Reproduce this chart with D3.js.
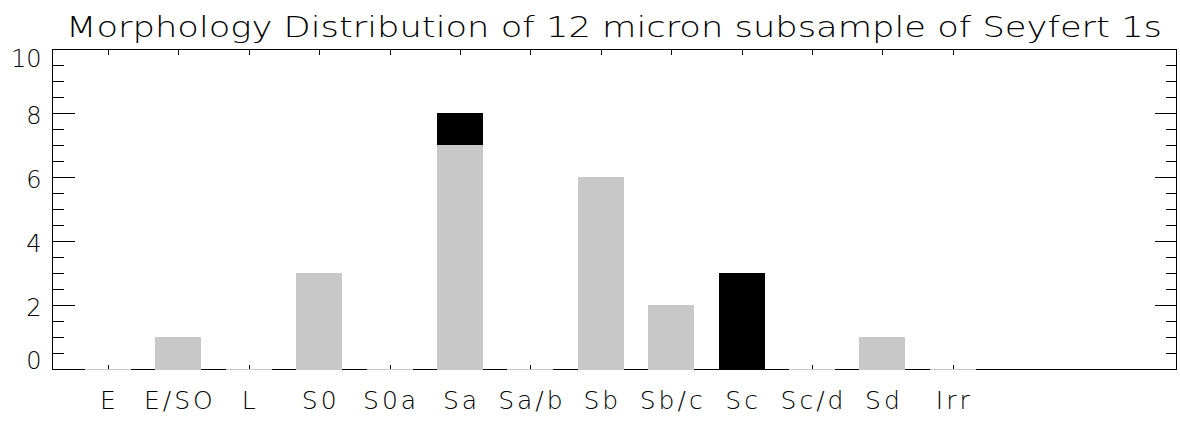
<!DOCTYPE html>
<html>
<head>
<meta charset="utf-8">
<script src="https://cdn.jsdelivr.net/npm/d3@7"></script>
<style>
  html, body { margin: 0; padding: 0; background: #fff; }
  svg { display: block; }
  text { font-family: "DejaVu Sans", "Liberation Sans", sans-serif; font-weight: 200; fill: #000; }
</style>
</head>
<body>
<div id="chart"></div>
<script>
// ---- data ----
const categories = ["E", "E/SO", "L", "S0", "S0a", "Sa", "Sa/b", "Sb", "Sb/c", "Sc", "Sc/d", "Sd", "Irr"];
const greyValues  = [0, 1, 0, 3, 0, 7, 0, 6, 2, 0, 0, 1, 0];
const blackValues = [0, 0, 0, 0, 0, 1, 0, 0, 0, 3, 0, 0, 0];
const yTickValues = [0, 2, 4, 6, 8, 10];
const yTickLabels = ["0", "2", "4", "6", "8", "10"];
const titleText = "Morphology Distribution of 12 micron subsample of Seyfert 1s";

// ---- layout ----
const W = 1180, H = 421;
const plot = { left: 52, right: 1176, top: 49, bottom: 369 };
const xDomain = [-0.795, 15.17];   // category index space of the frame
const barFrac = 0.653;
const greyColor = "#c8c8c8";
const axisColor = "#000";

const svg = d3.select("#chart").append("svg")
  .attr("width", W).attr("height", H);

const x = d3.scaleLinear().domain(xDomain).range([plot.left, plot.right]);
const y = d3.scaleLinear().domain([0, 10]).range([plot.bottom, plot.top]);
const step = x(1) - x(0);
const bw = step * barFrac;

const g = svg.append("g").attr("transform", "translate(0.5,0.5)");

// frame
g.append("rect")
  .attr("x", plot.left).attr("y", plot.top)
  .attr("width", plot.right - plot.left).attr("height", plot.bottom - plot.top)
  .attr("fill", "none").attr("stroke", axisColor).attr("stroke-width", 1)
  .attr("shape-rendering", "crispEdges");

// y ticks (major every 2, minor every 0.5) on left and right
const minorTicks = d3.range(0, 10.001, 0.5);
const majorLen = 22, minorLen = 11;
minorTicks.forEach(v => {
  const isMajor = Math.abs(v % 2) < 1e-9;
  const len = isMajor ? majorLen : minorLen;
  const yy = Math.round(y(v));
  g.append("line").attr("x1", plot.left).attr("x2", plot.left + len)
    .attr("y1", yy).attr("y2", yy).attr("stroke", axisColor).attr("shape-rendering", "crispEdges");
  g.append("line").attr("x1", plot.right).attr("x2", plot.right - len)
    .attr("y1", yy).attr("y2", yy).attr("stroke", axisColor).attr("shape-rendering", "crispEdges");
});

// y labels
yTickValues.forEach((v, i) => {
  let base = y(v) + 11;
  base = Math.max(base, plot.top + 18);
  base = Math.min(base, plot.bottom);
  svg.append("text")
    .attr("x", 41.5).attr("y", base)
    .attr("text-anchor", "end")
    .attr("font-size", 24)
    .text(yTickLabels[i]);
});

// x ticks (top and bottom) at category centres
categories.forEach((c, i) => {
  const xx = Math.round(x(i));
  g.append("line").attr("x1", xx).attr("x2", xx)
    .attr("y1", plot.top).attr("y2", plot.top + 5)
    .attr("stroke", axisColor).attr("shape-rendering", "crispEdges");
  g.append("line").attr("x1", xx).attr("x2", xx)
    .attr("y1", plot.bottom).attr("y2", plot.bottom - 5)
    .attr("stroke", axisColor).attr("shape-rendering", "crispEdges");
});

// grey series bars (zero bars show as a grey segment on the baseline)
svg.append("g").selectAll("rect.grey")
  .data(greyValues).join("rect")
  .attr("class", "grey")
  .attr("x", (d, i) => Math.round(x(i) - bw / 2))
  .attr("width", Math.round(bw))
  .attr("y", d => Math.round(y(d)))
  .attr("height", d => Math.round(y(0)) - Math.round(y(d)) + 1)
  .attr("fill", greyColor)
  .attr("shape-rendering", "crispEdges");

// black series, stacked on grey
svg.append("g").selectAll("rect.black")
  .data(blackValues.map((v, i) => ({ v, base: greyValues[i], i })).filter(d => d.v > 0))
  .join("rect")
  .attr("class", "black")
  .attr("x", d => Math.round(x(d.i) - bw / 2))
  .attr("width", Math.round(bw))
  .attr("y", d => Math.round(y(d.base + d.v)))
  .attr("height", d => Math.round(y(d.base)) - Math.round(y(d.base + d.v)) + (d.base === 0 ? 1 : 0))
  .attr("fill", "#000")
  .attr("shape-rendering", "crispEdges");

// x labels
const ls = 3;
svg.append("g").selectAll("text.xl")
  .data(categories).join("text")
  .attr("class", "xl")
  .attr("x", (d, i) => x(i) + ls / 2)
  .attr("y", 409)
  .attr("text-anchor", "middle")
  .attr("font-size", 25)
  .attr("letter-spacing", ls)
  .text(d => d);

// title
svg.append("text")
  .attr("x", 66).attr("y", 37)
  .attr("font-size", 27.5)
  .attr("textLength", 1096)
  .attr("lengthAdjust", "spacingAndGlyphs")
  .text(titleText);
</script>
</body>
</html>
